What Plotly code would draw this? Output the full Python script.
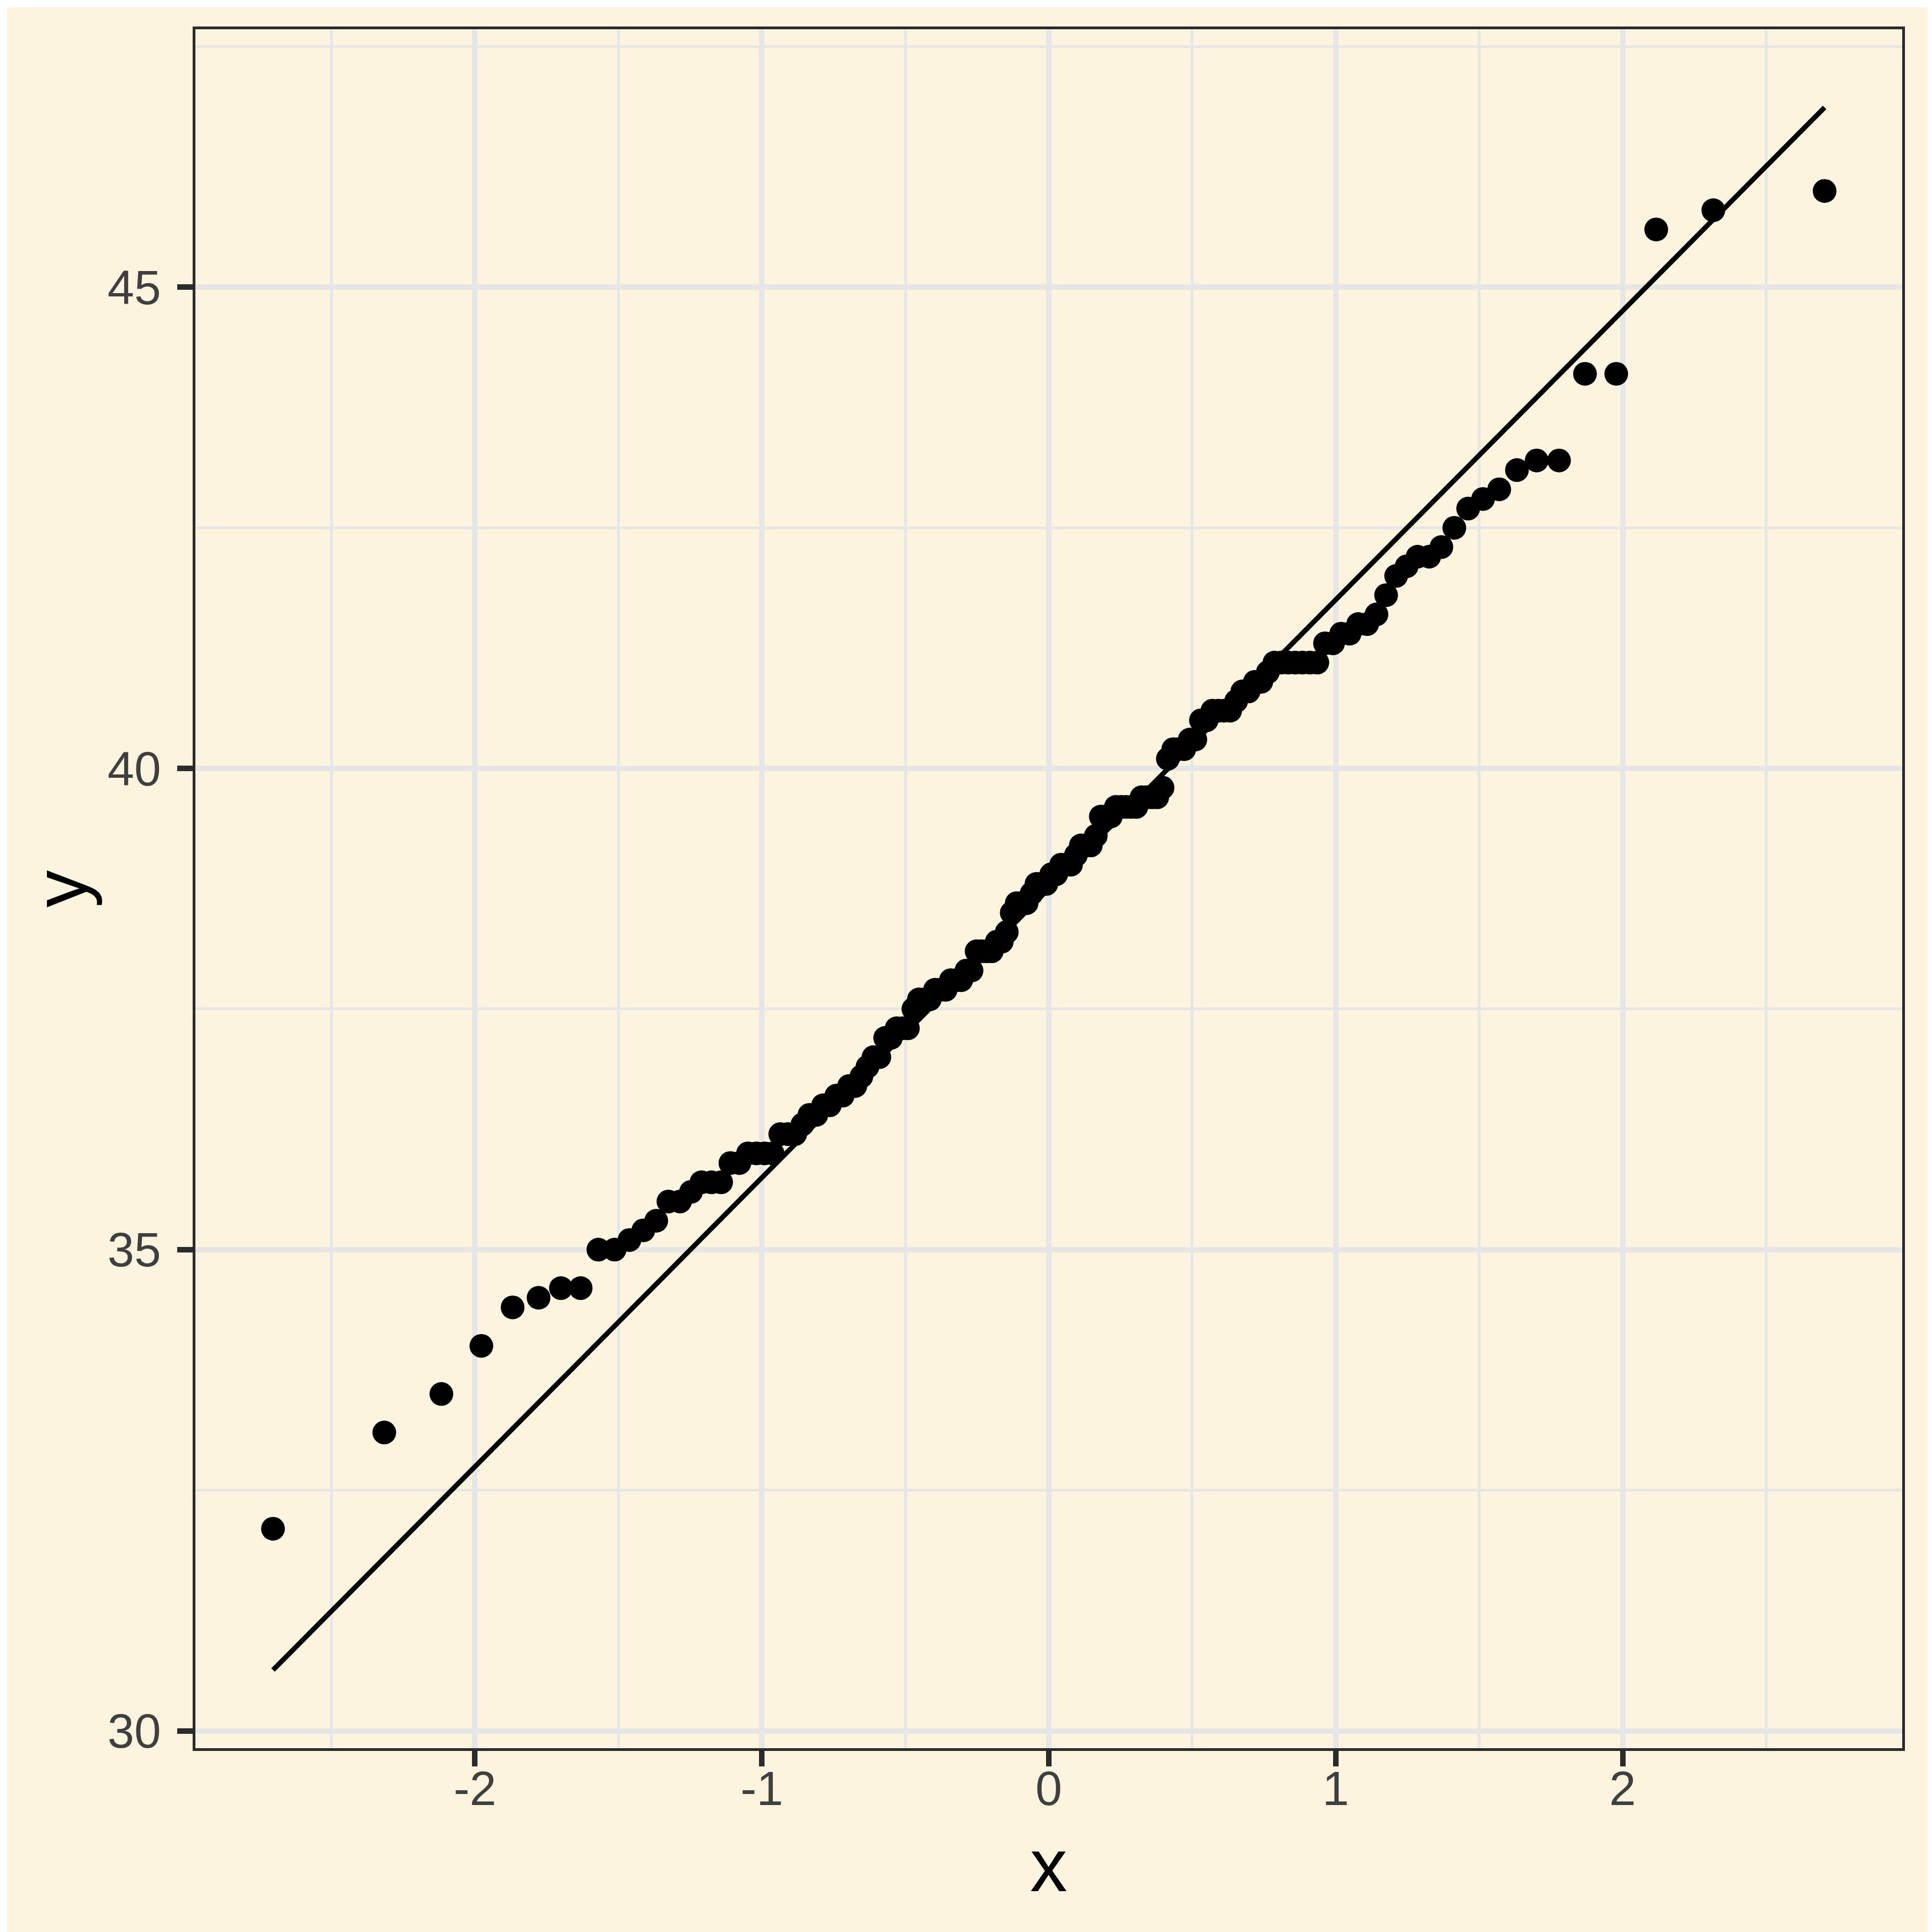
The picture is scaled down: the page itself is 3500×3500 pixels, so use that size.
import numpy as np
import plotly.graph_objects as go
from statistics import NormalDist

# Sample values (y)
sample = [
    39.1, 39.5, 40.3, 36.7, 39.3, 38.9, 39.2,
    41.1, 38.6, 34.6, 36.6, 38.7, 42.5, 34.4, 46.0,
    37.8, 37.7, 35.9, 38.2, 38.8, 35.3, 40.6, 40.5, 37.9, 40.5,
    39.5, 37.2, 39.5, 40.9, 36.4, 39.2, 38.8, 42.2, 37.6, 39.8,
    36.5, 40.8, 36.0, 44.1, 37.0, 39.6, 41.1, 36.0, 42.3,
    39.6, 40.1, 35.0, 42.0, 34.5, 41.4, 39.0, 40.6, 36.5, 37.6,
    35.7, 41.3, 37.6, 41.1, 36.4, 41.6, 35.5, 41.1, 35.9, 41.8,
    33.5, 39.7, 39.6, 45.8, 35.5, 42.8, 40.9, 37.2, 36.2, 42.1,
    34.6, 42.9, 36.7, 35.1, 37.3, 41.3, 36.3, 36.9, 38.3, 38.9,
    35.7, 41.1, 34.0, 39.6, 36.2, 40.8, 38.1, 40.3, 33.1, 43.2,
    35.0, 41.0, 37.7, 37.8, 37.9, 39.7, 38.6, 38.2, 38.1, 43.2,
    38.1, 45.6, 39.7, 42.2, 39.6, 42.7, 38.6, 37.3, 35.7, 41.1,
    36.2, 37.7, 40.2, 41.4, 35.2, 40.6, 38.8, 41.5, 39.0, 44.1,
    38.5, 43.1, 36.8, 37.5, 38.1, 41.1, 35.6, 40.2, 37.0, 39.7,
    40.2, 40.6, 32.1, 40.7, 37.3, 39.0, 39.2, 36.6, 36.0, 37.8,
    36.0, 41.5,
]

x_tickvals = [-2, -1, 0, 1, 2]
x_ticktext = ["-2", "-1", "0", "1", "2"]
x_minor = [-2.5, -1.5, -0.5, 0.5, 1.5, 2.5]
y_tickvals = [30, 35, 40, 45]
y_ticktext = ["30", "35", "40", "45"]
y_minor = [32.5, 37.5, 42.5, 47.5]

# Normal Q-Q transform (theoretical quantiles, as in ggplot's stat_qq)
nd = NormalDist()
y_sorted = np.sort(np.array(sample))
n = len(y_sorted)
a = 3 / 8 if n <= 10 else 0.5
probs = (np.arange(1, n + 1) - a) / (n + 1 - 2 * a)
x_theo = np.array([nd.inv_cdf(p) for p in probs])

# Q-Q line through the quartiles (stat_qq_line)
q_y = np.quantile(y_sorted, [0.25, 0.75])
q_x = np.array([nd.inv_cdf(0.25), nd.inv_cdf(0.75)])
slope = (q_y[1] - q_y[0]) / (q_x[1] - q_x[0])
intercept = q_y[0] - slope * q_x[0]
line_x = np.array([x_theo.min(), x_theo.max()])
line_y = intercept + slope * line_x

# ggplot-like 5% expansion
xmin, xmax = x_theo.min(), x_theo.max()
xs = xmax - xmin
ymin = min(y_sorted.min(), line_y.min())
ymax = max(y_sorted.max(), line_y.max())
ys = ymax - ymin

BG = "#FCF4DE"
GRID = "#E6E6E6"
DARK = "#2B2B2B"
FONT = "Liberation Sans, Arial, sans-serif"

fig = go.Figure()
fig.add_trace(go.Scatter(
    x=x_theo, y=y_sorted, mode="markers",
    marker=dict(color="black", size=43, line=dict(width=0)),
    showlegend=False, hoverinfo="skip",
))
fig.add_trace(go.Scatter(
    x=line_x, y=line_y, mode="lines",
    line=dict(color="black", width=9),
    showlegend=False, hoverinfo="skip",
))

L, R, T, B = 346, 62, 45, 341
PW = 3500 - L - R
PH = 3500 - T - B

axis_common = dict(
    showline=True, mirror=True, linecolor=DARK, linewidth=5,
    ticks="outside", ticklen=28, tickwidth=10, tickcolor=DARK,
    showgrid=True, gridcolor=GRID, gridwidth=10,
    zeroline=False,
    tickfont=dict(family=FONT, size=87, color="#3F3F3F"),
)

fig.update_layout(
    width=3500, height=3500,
    margin=dict(l=L, r=R, t=T, b=B),
    paper_bgcolor=BG, plot_bgcolor=BG,
    xaxis=dict(
        range=[xmin - 0.05 * xs, xmax + 0.05 * xs],
        tickmode="array", tickvals=x_tickvals, ticktext=x_ticktext,
        minor=dict(tickmode="array", tickvals=x_minor, showgrid=True,
                   gridcolor=GRID, gridwidth=5, ticks=""),
        ticklabelstandoff=-34,
        **axis_common,
    ),
    yaxis=dict(
        range=[ymin - 0.05 * ys, ymax + 0.05 * ys],
        tickmode="array", tickvals=y_tickvals, ticktext=y_ticktext,
        minor=dict(tickmode="array", tickvals=y_minor, showgrid=True,
                   gridcolor=GRID, gridwidth=5, ticks=""),
        ticklabelstandoff=12,
        **axis_common,
    ),
    annotations=[
        dict(text="x", xref="paper", yref="paper", x=0.5,
             y=-(3371 - (3500 - B)) / PH, xanchor="center", yanchor="middle",
             showarrow=False, font=dict(family=FONT, size=135, color="black")),
        dict(text="y", xref="paper", yref="paper", x=(102 - L) / PW,
             y=0.5, xanchor="center", yanchor="middle", textangle=-90,
             showarrow=False, font=dict(family=FONT, size=135, color="black")),
    ],
    shapes=[
        dict(type="rect", xref="paper", yref="paper",
             x0=-L / PW, x1=(3500 - L) / PW,
             y0=-B / PH, y1=(3500 - B) / PH,
             line=dict(color="white", width=10), fillcolor="rgba(0,0,0,0)",
             layer="above"),
    ],
)

fig.write_html("out.html")
